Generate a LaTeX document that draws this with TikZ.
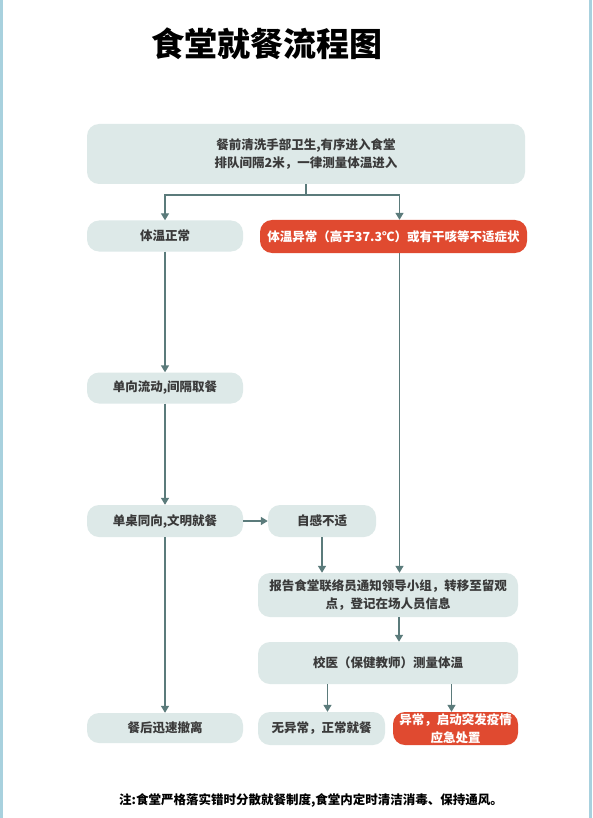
\documentclass[tikz,border=0pt]{standalone}
\usepackage{fontspec}
\newfontfamily\cjk{Noto Sans CJK SC}
\usetikzlibrary{positioning,arrows.meta,calc}
\definecolor{boxfill}{HTML}{DDE9E8}
\definecolor{alertred}{HTML}{E04A30}
\definecolor{linegray}{HTML}{5B7B7B}
\definecolor{txtgray}{HTML}{3A3A3A}
\definecolor{edgeblue}{HTML}{A8D1DE}
\tikzset{
  stepbox/.style={rectangle,rounded corners=12pt,fill=boxfill,text=txtgray,
    font=\cjk\bfseries\fontsize{12.5}{18}\selectfont,align=center,inner sep=0pt},
  alertbox/.style={stepbox,fill=alertred,text=white},
  arr/.style={draw=linegray,line width=1.4pt,-{Triangle[length=7pt,width=8pt]}},
  ln/.style={draw=linegray,line width=1.4pt}
}
\begin{document}
\begin{tikzpicture}[x=1pt,y=-1pt]
\useasboundingbox (0,0) rectangle (592,818);
\fill[white] (0,0) rectangle (592,818);
\fill[edgeblue] (0,0) rectangle (2.5,818);
\fill[edgeblue] (589,0) rectangle (592,818);
\node (title) at (267,44) {\cjk\bfseries\fontsize{33}{36}\selectfont 食堂就餐流程图};
\node[stepbox,minimum width=438pt,minimum height=60pt] (enter) at (306,154) {餐前清洗手部卫生,有序进入食堂\\排队间隔2米，一律测量体温进入};
\node[stepbox,minimum width=156pt,minimum height=31pt] (normal) at (165,236) {体温正常};
\node[alertbox,minimum width=267pt,minimum height=33pt] (abn) at (393.5,236.5) {体温异常（高于37.3℃）或有干咳等不适症状};
\node[stepbox,minimum width=156pt,minimum height=31pt] (flow) at (165,388) {单向流动,间隔取餐};
\node[stepbox,minimum width=156pt,minimum height=32pt] (table) at (165,521) {单桌同向,文明就餐};
\node[stepbox,minimum width=108pt,minimum height=32pt] (unwell) at (322,521) {自感不适};
\node[stepbox,minimum width=260pt,minimum height=44pt] (report) at (388,595) {报告食堂联络员通知领导小组，转移至留观\\点，登记在场人员信息};
\node[stepbox,minimum width=260pt,minimum height=42pt] (doctor) at (388,663) {校医（保健教师）测量体温};
\node[stepbox,minimum width=127pt,minimum height=33pt] (ok) at (321.5,728.5) {无异常，正常就餐};
\node[alertbox,minimum width=125pt,minimum height=33pt] (emerg) at (455.5,728.5) {异常，启动突发疫情\\应急处置};
\node[stepbox,minimum width=156pt,minimum height=30pt] (leave) at (165,728) {餐后迅速撤离};
\node[text=black,font=\cjk\bfseries\fontsize{12.5}{15}\selectfont] (note) at (311,800) {注:食堂严格落实错时分散就餐制度,食堂内定时清洁消毒、保持通风。};
\draw[ln] (enter.south) -- ++(0,11) coordinate (split);
\draw[arr] (split) -| (normal.north);
\draw[arr] (split) -| ([xshift=6pt]abn.north);
\draw[arr] (normal) -- (flow);
\draw[arr] (flow) -- (table);
\draw[arr] (table) -- (unwell);
\draw[arr] (table) -- (leave);
\draw[arr] ([xshift=6pt]abn.south) -- ([xshift=6pt]abn.south |- report.north);
\draw[arr] (unwell) -- (unwell |- report.north);
\draw[arr] ([xshift=11pt]report.south) -- ([xshift=11pt]report.south |- doctor.north);
\draw[arr] ([xshift=6pt]doctor.south -| ok.north) -- ([xshift=6pt]ok.north);
\draw[arr] ([xshift=-4pt]doctor.south -| emerg.north) -- ([xshift=-4pt]emerg.north);
\end{tikzpicture}
\end{document}
